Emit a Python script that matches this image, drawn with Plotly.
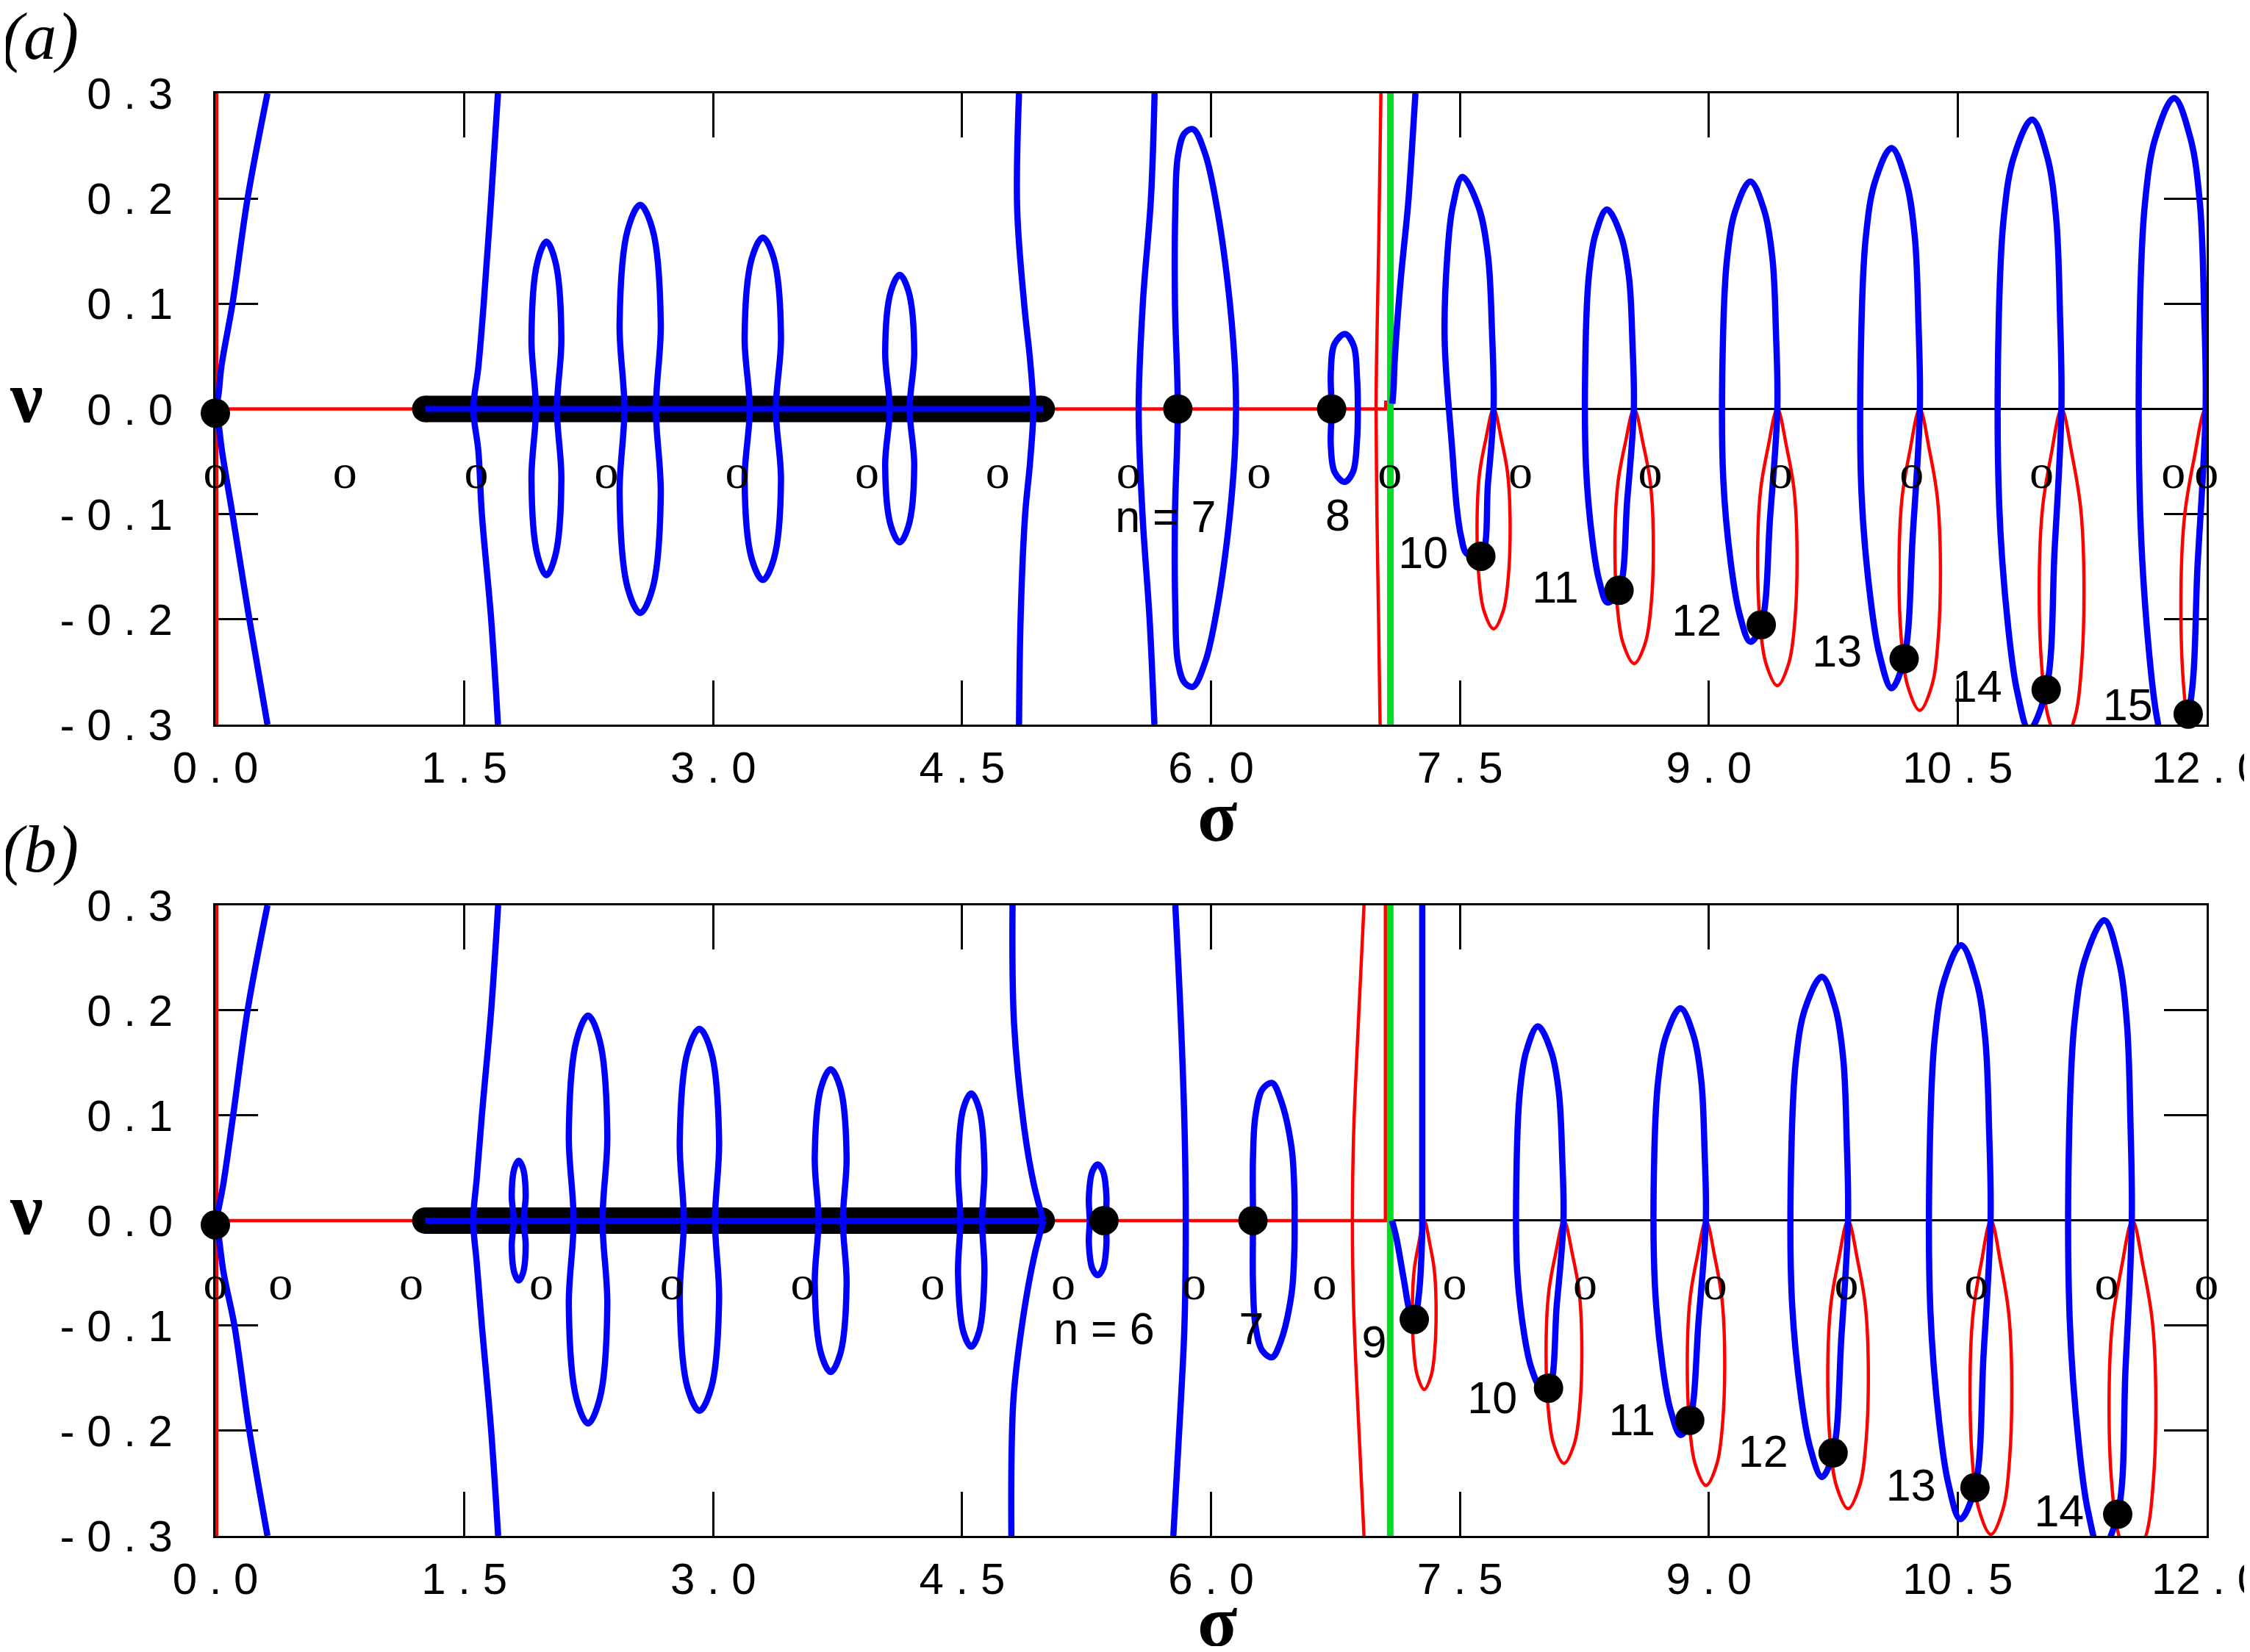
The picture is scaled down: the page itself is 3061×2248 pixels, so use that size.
import plotly.graph_objects as go

# ---------------- axes ----------------
SIGMA_TICKS = [0.0, 1.5, 3.0, 4.5, 6.0, 7.5, 9.0, 10.5, 12.0]
SIGMA_TICKTEXT = ["0 . 0", "1 . 5", "3 . 0", "4 . 5", "6 . 0", "7 . 5", "9 . 0", "10 . 5", "12 . 0"]
NU_TICKS = [-0.3, -0.2, -0.1, 0.0, 0.1, 0.2, 0.3]
NU_TICKTEXT = ["- 0 . 3", "- 0 . 2", "- 0 . 1", "0 . 0", "0 . 1", "0 . 2", "0 . 3"]

# ---------------- panel (a) ----------------
A_BLUE_OPEN = [
    [(0.314, 0.3), (0.194, 0.2), (0.103, 0.1), (0.036, 0.04), (0.02, 0.015), (0.005, 0.0),
     (0.02, -0.015), (0.04, -0.04), (0.103, -0.1), (0.205, -0.2), (0.314, -0.3)],
    [(1.703, 0.3), (1.662, 0.2), (1.617, 0.1), (1.585, 0.04), (1.555, 0.0), (1.585, -0.04),
     (1.606, -0.1), (1.662, -0.2), (1.703, -0.3)],
    [(4.843, 0.3), (4.832, 0.19), (4.877, 0.095), (4.91, 0.046), (4.929, 0.0), (4.91, -0.05),
     (4.88, -0.1), (4.853, -0.197), (4.843, -0.3)],
    [(5.66, 0.3), (5.638, 0.2), (5.589, 0.1), (5.564, 0.0), (5.587, -0.1), (5.63, -0.2), (5.659, -0.3)],
    [(7.093, 0.005), (7.1, 0.019), (7.107, 0.046), (7.141, 0.119), (7.187, 0.193), (7.209, 0.242), (7.232, 0.3)],
]
# figure-eight loops: centre, top, bottom, max half-width, waist half-width
A_FIG8 = [(1.995, 0.159, -0.158, 0.09, 0.0635),
          (2.56, 0.194, -0.194, 0.124, 0.095),
          (3.299, 0.163, -0.1625, 0.1095, 0.079),
          (4.124, 0.1275, -0.1267, 0.0875, 0.06)]
A_CLOSED = [
    [(5.80, 0.0), (5.783, 0.1), (5.785, 0.19), (5.80, 0.24), (5.84, 0.262), (5.892, 0.266), (5.966, 0.242),
     (6.034, 0.193), (6.101, 0.119), (6.142, 0.046), (6.151, 0.0), (6.142, -0.046), (6.101, -0.119),
     (6.034, -0.192), (5.966, -0.24), (5.892, -0.264), (5.84, -0.26), (5.80, -0.24), (5.785, -0.19),
     (5.783, -0.1), (5.80, 0.0)],
    [(6.727, 0.0), (6.722, 0.035), (6.745, 0.062), (6.808, 0.0712), (6.86, 0.06), (6.88, 0.03), (6.885, 0.0),
     (6.88, -0.03), (6.855, -0.06), (6.804, -0.0693), (6.745, -0.06), (6.722, -0.035), (6.727, 0.0)],
]
# tilted loops: dot x, dot nu, right x at nu=0, top x, top nu, left x, lower-left x, bottom x, bottom nu
A_BLUE_LOOPS = [(7.626, -0.14, 7.703, 7.515, 0.2206, 7.408, 7.455, 7.542, -0.1377),
                (8.459, -0.1724, 8.548, 8.386, 0.1896, 8.257, 8.26, 8.389, -0.184),
                (9.316, -0.2051, 9.413, 9.25, 0.2162, 9.085, 9.087, 9.25, -0.2213),
                (10.177, -0.2374, 10.272, 10.101, 0.248, 9.919, 9.92, 10.101, -0.2654),
                (11.033, -0.2668, 11.125, 10.948, 0.275, 10.747, 10.75, 10.93, -0.305),
                (11.889, -0.29, 11.994, 11.804, 0.2955, 11.597, 11.6, 11.77, -0.335)]
# red tear-drops: top x, half-width, depth
A_RED_LOOPS = [(7.703, 0.099, 0.209), (8.55, 0.115, 0.242), (9.413, 0.118, 0.263),
               (10.271, 0.124, 0.2865), (11.126, 0.134, 0.32), (11.994, 0.148, 0.345)]
A_RED_SEGMENTS = [[(0.0, 0.0), (1.265, 0.0)], [(4.99, 0.0), (7.053, 0.0), (7.053, 0.008)]]
A_RED_CURVES = [[(7.024, 0.3), (7.01, 0.15), (6.998, 0.05), (6.995, 0.0), (7.0, -0.1), (7.01, -0.2), (7.019, -0.3)]]
A_GREEN_X = 7.081
A_BAND = (1.265, 4.98)
A_AXIS_BLUE = (1.265, 4.99)
A_DOTS_X = [0.0, 5.80, 6.727, 7.626, 8.459, 9.316, 10.177, 11.033, 11.889]
A_DOTS_Y = [-0.004, 0.0, 0.0, -0.14, -0.1724, -0.2051, -0.2374, -0.2668, -0.29]
A_O_X = [0.0, 0.781, 1.572, 2.357, 3.145, 3.927, 4.714, 5.503, 6.289, 7.078, 7.865, 8.647,
         9.433, 10.223, 11.006, 11.80, 11.999]
A_LABELS = ["n = 7", "8", "10", "11", "12", "13", "14", "15"]
A_LABEL_X = [5.727, 6.764, 7.279, 8.075, 8.927, 9.773, 10.617, 11.525]
A_LABEL_Y = [-0.106, -0.105, -0.1406, -0.1735, -0.205, -0.2345, -0.268, -0.285]

# ---------------- panel (b) ----------------
B_BLUE_OPEN = [
    [(0.314, 0.3), (0.194, 0.2), (0.107, 0.1), (0.047, 0.034), (0.02, 0.012), (0.005, 0.0),
     (0.02, -0.015), (0.05, -0.05), (0.115, -0.1), (0.205, -0.2), (0.314, -0.3)],
    [(1.704, 0.3), (1.662, 0.2), (1.606, 0.1), (1.575, 0.04), (1.554, 0.0), (1.575, -0.04),
     (1.606, -0.1), (1.662, -0.2), (1.704, -0.3)],
    [(4.804, 0.3), (4.813, 0.188), (4.877, 0.085), (4.933, 0.034), (4.99, 0.0)],
    [(4.99, 0.0), (4.933, -0.035), (4.866, -0.094), (4.809, -0.171), (4.797, -0.3)],
    [(5.785, 0.3), (5.819, 0.188), (5.841, 0.085), (5.848, 0.0), (5.84, -0.1), (5.819, -0.17), (5.773, -0.3)],
    [(7.091, 0.0), (7.118, -0.017), (7.164, -0.058), (7.198, -0.0864), (7.225, -0.094),
     (7.254, -0.0685), (7.272, -0.017), (7.273, 0.0)],
]
B_BLUE_STRAIGHT = [[(7.273, 0.0), (7.273, 0.3)]]
B_FIG8 = [(1.828, 0.057, -0.057, 0.042, 0.03),
          (2.246, 0.195, -0.193, 0.116, 0.087),
          (2.917, 0.1825, -0.181, 0.1185, 0.094),
          (3.708, 0.144, -0.144, 0.096, 0.0735),
          (4.555, 0.121, -0.12, 0.0795, 0.0655),
          (5.317, 0.0534, -0.052, 0.053, 0.048)]
B_CLOSED = [
    [(6.253, 0.0), (6.253, 0.06), (6.268, 0.1), (6.31, 0.125), (6.368, 0.131), (6.42, 0.115),
     (6.485, 0.07), (6.502, 0.03), (6.504, 0.0), (6.502, -0.03), (6.485, -0.07), (6.42, -0.115),
     (6.368, -0.13), (6.31, -0.124), (6.268, -0.1), (6.253, -0.06), (6.253, 0.0)],
]
B_BLUE_LOOPS = [(8.034, -0.1594, 8.124, 7.97, 0.185, 7.842, 7.845, 7.985, -0.1585),
                (8.885, -0.19, 8.982, 8.829, 0.202, 8.671, 8.675, 8.83, -0.204),
                (9.749, -0.221, 9.839, 9.681, 0.232, 9.498, 9.50, 9.681, -0.244),
                (10.604, -0.254, 10.698, 10.52, 0.262, 10.333, 10.335, 10.515, -0.284),
                (11.464, -0.2794, 11.549, 11.383, 0.2858, 11.172, 11.175, 11.36, -0.315)]
B_RED_LOOPS = [(7.285, 0.071, 0.1606), (8.127, 0.107, 0.231), (8.983, 0.112, 0.252),
               (9.839, 0.1215, 0.274), (10.70, 0.125, 0.2986), (11.553, 0.14, 0.326)]
B_RED_SEGMENTS = [[(0.0, 0.0), (1.265, 0.0)], [(4.99, 0.0), (7.051, 0.0), (7.051, 0.3)]]
B_RED_CURVES = [[(6.922, 0.3), (6.888, 0.188), (6.86, 0.085), (6.852, 0.0), (6.86, -0.085), (6.888, -0.188), (6.922, -0.3)]]
B_GREEN_X = 7.080
B_BAND = (1.265, 4.98)
B_AXIS_BLUE = (1.265, 4.99)
B_DOTS_X = [0.0, 5.355, 6.253, 7.225, 8.034, 8.885, 9.749, 10.604, 11.464]
B_DOTS_Y = [-0.004, 0.0, 0.0, -0.094, -0.1594, -0.19, -0.221, -0.254, -0.2794]
B_O_X = [0.0, 0.393, 1.181, 1.965, 2.752, 3.539, 4.323, 5.11, 5.898, 6.684, 7.468, 8.255,
         9.038, 9.829, 10.612, 11.398, 11.999]
B_LABELS = ["n = 6", "7", "9", "10", "11", "12", "13", "14"]
B_LABEL_X = [5.355, 6.244, 6.983, 7.695, 8.537, 9.328, 10.218, 11.111]
B_LABEL_Y = [-0.1068, -0.107, -0.1196, -0.1724, -0.1936, -0.2236, -0.256, -0.28]

O_NU = -0.0635

BLUE = "#0000ff"
RED = "#ff0000"
GREEN = "#00dd22"


def fig8_points(cx, t, b, w, wz):
    return [(cx, t), (cx + 0.6 * w, 0.88 * t), (cx + w, 0.42 * t), (cx + wz, 0.0),
            (cx + w, 0.42 * b), (cx + 0.6 * w, 0.88 * b), (cx, b), (cx - 0.6 * w, 0.88 * b),
            (cx - w, 0.42 * b), (cx - wz, 0.0), (cx - w, 0.42 * t), (cx - 0.6 * w, 0.88 * t), (cx, t)]


def loop_points(xd, nd, xr, xt, t, xl, xll, xb, b):
    return [(xd, nd), ((xd + xr) / 2 + 0.005, nd / 2), (xr, 0.0),
            (xr - 0.05 * (xr - xt), 0.33 * t), (xr - 0.18 * (xr - xt), 0.66 * t),
            (xr - 0.48 * (xr - xt), 0.87 * t), (xt, t),
            (xl + 0.45 * (xt - xl), 0.87 * t), (xl + 0.15 * (xt - xl), 0.66 * t),
            (xl, 0.3 * t), (xll, 0.3 * b), (xll + 0.3 * (xb - xll), 0.68 * b),
            (xll + 0.6 * (xb - xll), 0.88 * b), (xb, b), (xd, nd)]


def red_loop_points(xc, hw, h):
    right = [(0.48, 0.14), (0.85, 0.29), (1.0, 0.48), (0.9, 0.76), (0.58, 0.92)]
    pts = [(xc, 0.0)] + [(xc + fx * hw, -fy * h) for fx, fy in right] + [(xc, -h)]
    pts += [(xc - fx * hw, -fy * h) for fx, fy in reversed(right)] + [(xc, 0.0)]
    return pts


fig = go.Figure()


def add_line(pts, color, width, shape, xa, ya):
    fig.add_trace(go.Scatter(x=[p[0] for p in pts], y=[p[1] for p in pts], mode="lines",
                             line=dict(color=color, width=width, shape=shape, smoothing=1.0),
                             xaxis=xa, yaxis=ya, hoverinfo="skip", showlegend=False))


panels = [
    ("x", "y", A_BLUE_OPEN, [], A_FIG8, A_CLOSED, A_BLUE_LOOPS, A_RED_LOOPS, A_RED_SEGMENTS, A_RED_CURVES,
     A_GREEN_X, A_BAND, A_AXIS_BLUE, A_DOTS_X, A_DOTS_Y, A_O_X, A_LABELS, A_LABEL_X, A_LABEL_Y),
    ("x2", "y2", B_BLUE_OPEN, B_BLUE_STRAIGHT, B_FIG8, B_CLOSED, B_BLUE_LOOPS, B_RED_LOOPS, B_RED_SEGMENTS,
     B_RED_CURVES, B_GREEN_X, B_BAND, B_AXIS_BLUE, B_DOTS_X, B_DOTS_Y, B_O_X, B_LABELS, B_LABEL_X, B_LABEL_Y),
]

BW = 8.5  # blue curve width

for (xa, ya, blue_open, blue_straight, fig8, closed, bloops, rloops, rsegs, rcurves,
     gx, band, axblue, dx, dy, ox, labels, lx, ly) in panels:
    # red
    add_line([(0.0, -0.3), (0.0, 0.3)], RED, 8, "linear", xa, ya)
    for seg in rsegs:
        add_line(seg, RED, 4.5, "linear", xa, ya)
    for c in rcurves:
        add_line(c, RED, 4.5, "spline", xa, ya)
    for p in rloops:
        add_line(red_loop_points(*p), RED, 4.5, "spline", xa, ya)
    # green
    add_line([(gx, -0.3), (gx, 0.3)], GREEN, 9, "linear", xa, ya)
    # thick black band with round ends
    fig.add_trace(go.Scatter(x=[band[0], band[1]], y=[0.0, 0.0], mode="lines+markers",
                             line=dict(color="black", width=36), marker=dict(color="black", size=36),
                             xaxis=xa, yaxis=ya, hoverinfo="skip", showlegend=False))
    add_line([(axblue[0], 0.0), (axblue[1], 0.0)], BLUE, 8, "linear", xa, ya)
    # blue
    for c in blue_open:
        add_line(c, BLUE, BW, "spline", xa, ya)
    for c in blue_straight:
        add_line(c, BLUE, BW, "linear", xa, ya)
    for p in fig8:
        add_line(fig8_points(*p), BLUE, BW, "spline", xa, ya)
    for c in closed:
        add_line(c, BLUE, BW, "spline", xa, ya)
    for p in bloops:
        add_line(loop_points(*p), BLUE, BW, "spline", xa, ya)
    # dots
    fig.add_trace(go.Scatter(x=dx, y=dy, mode="markers", marker=dict(color="black", size=40),
                             cliponaxis=False, xaxis=xa, yaxis=ya, hoverinfo="skip", showlegend=False))
    # o markers
    fig.add_trace(go.Scatter(x=ox, y=[O_NU] * len(ox), mode="text", text=["o"] * len(ox),
                             textposition="middle center",
                             textfont=dict(family="Liberation Serif", size=66, color="black"),
                             cliponaxis=False, xaxis=xa, yaxis=ya, hoverinfo="skip", showlegend=False))
    # n labels
    fig.add_trace(go.Scatter(x=lx, y=ly, mode="text", text=labels, textposition="middle center",
                             textfont=dict(family="Liberation Sans", size=61, color="black"),
                             cliponaxis=False, xaxis=xa, yaxis=ya, hoverinfo="skip", showlegend=False))

xcommon = dict(range=[0, 12], tickvals=SIGMA_TICKS, ticktext=SIGMA_TICKTEXT, ticks="inside", ticklen=60,
               tickwidth=3, tickcolor="black", showline=True, linecolor="black", linewidth=3, mirror="ticks",
               showgrid=False, zeroline=False, layer="below traces", ticklabelstandoff=4,
               ticklabeloverflow="allow", automargin=False,
               tickfont=dict(family="Liberation Sans", size=60, color="black"))
ycommon = dict(range=[-0.3, 0.3], tickvals=NU_TICKS, ticktext=NU_TICKTEXT, ticks="inside", ticklen=58,
               tickwidth=3, tickcolor="black", showline=True, linecolor="black", linewidth=3, mirror="ticks",
               showgrid=False, zeroline=True, zerolinecolor="black", zerolinewidth=3, layer="below traces",
               automargin=False, ticklabelstandoff=43,
               tickfont=dict(family="Liberation Sans", size=60, color="black"))

# page body has an 8 px margin; size the figure so the plot areas land where the reference has them
fig.update_layout(
    width=3045, height=2232, paper_bgcolor="white", plot_bgcolor="white",
    margin=dict(l=285, r=51, t=119, b=150, autoexpand=False),
    xaxis=dict(domain=[0, 1], anchor="y", **xcommon),
    yaxis=dict(domain=[0.5624, 1.0], anchor="x", **ycommon),
    xaxis2=dict(domain=[0, 1], anchor="y2", **xcommon),
    yaxis2=dict(domain=[0.0, 0.4371], anchor="x2", **ycommon),
    showlegend=False,
)

ann_font_greek = dict(family="Liberation Serif", size=100, color="black")
ann_font_panel = dict(family="Liberation Serif", size=90, color="black")
annotations = [
    dict(text="<b>σ</b>", x=0.5031, y=0.4992, font=ann_font_greek),
    dict(text="<b>σ</b>", x=0.5031, y=-0.0592, font=ann_font_greek),
    dict(text="<b>ν</b>", x=-0.0949, y=0.7891, font=ann_font_greek),
    dict(text="<b>ν</b>", x=-0.0949, y=0.2262, font=ann_font_greek),
    dict(text="<i>(a)</i>", x=-0.0879, y=1.039, font=ann_font_panel),
    dict(text="<i>(b)</i>", x=-0.0879, y=0.4759, font=ann_font_panel),
]
for a in annotations:
    fig.add_annotation(xref="paper", yref="paper", xanchor="center", yanchor="middle",
                       showarrow=False, **a)

fig.write_html("out.html")
